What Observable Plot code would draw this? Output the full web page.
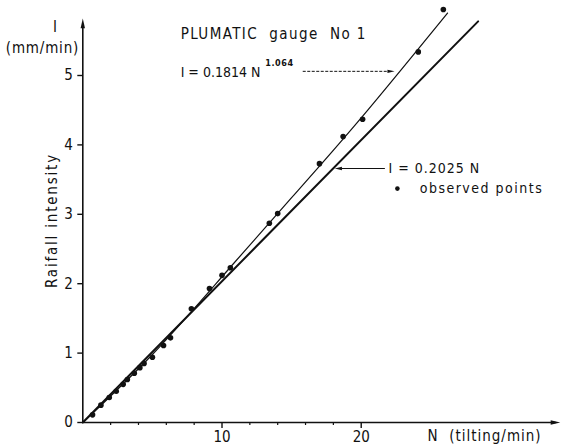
<!DOCTYPE html>
<html>
<head>
<meta charset="utf-8">
<script src="https://cdn.jsdelivr.net/npm/d3@7"></script>
<script src="https://cdn.jsdelivr.net/npm/@observablehq/plot@0.6"></script>
<style>
  html, body { margin: 0; padding: 0; background: #fff; }
  #chart svg { display: block; }
</style>
</head>
<body>
<div id="chart"></div>
<script>
// ---- data ----
const obsN = [0.7, 1.3, 1.9, 2.4, 2.9, 3.2, 3.7, 4.1, 4.4, 5.0, 5.8, 6.3, 7.8, 9.1, 10.0, 10.6, 13.4, 14.0, 17.0, 18.7, 20.1, 24.1, 25.9];
const obsI = [0.11, 0.25, 0.36, 0.45, 0.55, 0.62, 0.71, 0.79, 0.85, 0.94, 1.11, 1.22, 1.64, 1.93, 2.12, 2.23, 2.87, 3.01, 3.73, 4.12, 4.37, 5.34, 5.95];

// fitted power curve I = 0.1814 N^1.064
const curveN = [0, 5, 10, 15, 20, 26.2];
const curveI = [0, 0.98, 2.1, 3.24, 4.39, 5.9];

// fitted straight line I = 0.2025 N (end points)
const lineN = [0, 28.4];
const lineI = [0, 5.78];

// axes
const xDomain = [0, 34];
const yDomain = [0, 6];
const xMajorTicks = [10, 20];
const xMinorTicks = [2, 4, 6, 8, 12, 14, 16, 18];
const yTicks = [0, 1, 2, 3, 4, 5];
const xArrowTip = 34.3;
const yArrowTip = 5.82;

// annotation texts
const titleText = "PLUMATIC  gauge  No 1";
const powerText = "I = 0.1814 N";
const powerExp = "1.064";
const linearText = "I = 0.2025 N";
const legendText = "observed points";
const yUnitTop = "I";
const yUnitBottom = "(mm/min)";
const yLabel = "Raifall intensity";
const xLabel = "N  (tilting/min)";

const pts = obsN.map((n, i) => ({N: n, I: obsI[i]}));
const curve = curveN.map((n, i) => ({N: n, I: curveI[i]}));
const line = lineN.map((n, i) => ({N: n, I: lineI[i]}));

// filled, elongated arrow-head symbol; tip at the anchor, pointing "up" before rotation
const headSymbol = {
  draw(ctx, size) {
    const r = Math.sqrt(size / Math.PI);
    ctx.moveTo(0, 0);
    ctx.lineTo(-r * 0.55, r * 2.4);
    ctx.lineTo(r * 0.55, r * 2.4);
    ctx.closePath();
  }
};

const font = "'DejaVu Sans Condensed', 'DejaVu Sans', sans-serif";

const chart = Plot.plot({
  width: 561,
  height: 445,
  marginLeft: 82.3,
  marginRight: 5.4,
  marginTop: 5.6,
  marginBottom: 23,
  style: {fontFamily: font, fontSize: "15px", color: "#111", background: "#fff"},
  x: {domain: xDomain, label: null},
  y: {domain: yDomain, label: null},
  marks: [
    // axis lines + arrow heads
    Plot.ruleY([0], {x1: 0, x2: xArrowTip - 0.3, stroke: "#111", strokeWidth: 1.6}),
    Plot.ruleX([0], {y1: 0, y2: yArrowTip - 0.1, stroke: "#111", strokeWidth: 1.6}),
    Plot.dot([{N: xArrowTip, I: 0}], {x: "N", y: "I", symbol: headSymbol, r: 4, rotate: 90, fill: "#111", stroke: "none"}),
    Plot.dot([{N: 0, I: yArrowTip}], {x: "N", y: "I", symbol: headSymbol, r: 4, rotate: 0, fill: "#111", stroke: "none"}),
    // ticks
    Plot.axisX({ticks: xMinorTicks, tickSize: 3, tickFormat: () => "", strokeWidth: 1.2}),
    Plot.axisX({ticks: xMajorTicks, tickSize: 6, tickPadding: 3, tickFormat: "d", fontSize: 15, strokeWidth: 1.4}),
    Plot.axisY({ticks: yTicks, tickSize: 5, tickPadding: 5, tickFormat: "d", fontSize: 15, strokeWidth: 1.4}),
    // fitted lines
    Plot.line(line, {x: "N", y: "I", stroke: "#111", strokeWidth: 2}),
    Plot.line(curve, {x: "N", y: "I", stroke: "#111", strokeWidth: 1.2, curve: "natural"}),
    // observed points
    Plot.dot(pts, {x: "N", y: "I", r: 2.8, fill: "#111", stroke: "none"}),
    // annotation arrows
    Plot.link([{x1: 15.8, x2: 21.9, y: 5.06}], {x1: "x1", x2: "x2", y1: "y", y2: "y", stroke: "#111", strokeWidth: 1, strokeDasharray: "3,1.5"}),
    Plot.dot([{N: 22.4, I: 5.06}], {x: "N", y: "I", symbol: headSymbol, r: 3, rotate: 90, fill: "#111", stroke: "none"}),
    Plot.link([{x1: 21.7, x2: 18.6, y: 3.66}], {x1: "x1", x2: "x2", y1: "y", y2: "y", stroke: "#111", strokeWidth: 1.2}),
    Plot.dot([{N: 18.1, I: 3.66}], {x: "N", y: "I", symbol: headSymbol, r: 3, rotate: -90, fill: "#111", stroke: "none"}),
    // texts
    Plot.text([titleText], {x: 7.03, y: 5.6, textAnchor: "start", fontSize: 15, fill: "#111"}),
    Plot.text([powerText], {x: 7.03, y: 5.04, textAnchor: "start", fontSize: 14, fill: "#111"}),
    Plot.text([powerExp], {x: 13.1, y: 5.18, textAnchor: "start", fontSize: 9, fontWeight: "bold", fill: "#111"}),
    Plot.text([linearText], {x: 21.96, y: 3.66, textAnchor: "start", fontSize: 14, fill: "#111"}),
    Plot.dot([{N: 22.6, I: 3.37}], {x: "N", y: "I", r: 2.3, fill: "#111", stroke: "none"}),
    Plot.text([legendText], {x: 24.2, y: 3.37, textAnchor: "start", fontSize: 14, fill: "#111"}),
    Plot.text([yUnitTop], {x: -2.0, y: 5.69, fontSize: 15, fill: "#111"}),
    Plot.text([yUnitBottom], {x: -2.9, y: 5.40, fontSize: 15, fill: "#111"}),
    Plot.text([yLabel], {x: -2.18, y: 2.91, rotate: -90, fontSize: 15, fill: "#111"}),
    Plot.text([xLabel], {x: 24.76, y: 0, dy: 14, textAnchor: "start", fontSize: 15, fill: "#111"})
  ]
});

// letter spacing (the typewritten lettering of the original is widely spaced)
const spacing = new Map([
  [titleText, 1.4],
  [powerExp, 0.6],
  [linearText, 1],
  [legendText, 1.5],
  [yUnitBottom, 0.8],
  [yLabel, 1.8],
  [xLabel, 1.0]
]);
d3.select(chart).selectAll("text").each(function () {
  const t = this.textContent;
  if (spacing.has(t)) this.setAttribute("letter-spacing", spacing.get(t));
});

document.getElementById("chart").appendChild(chart);
</script>
</body>
</html>
